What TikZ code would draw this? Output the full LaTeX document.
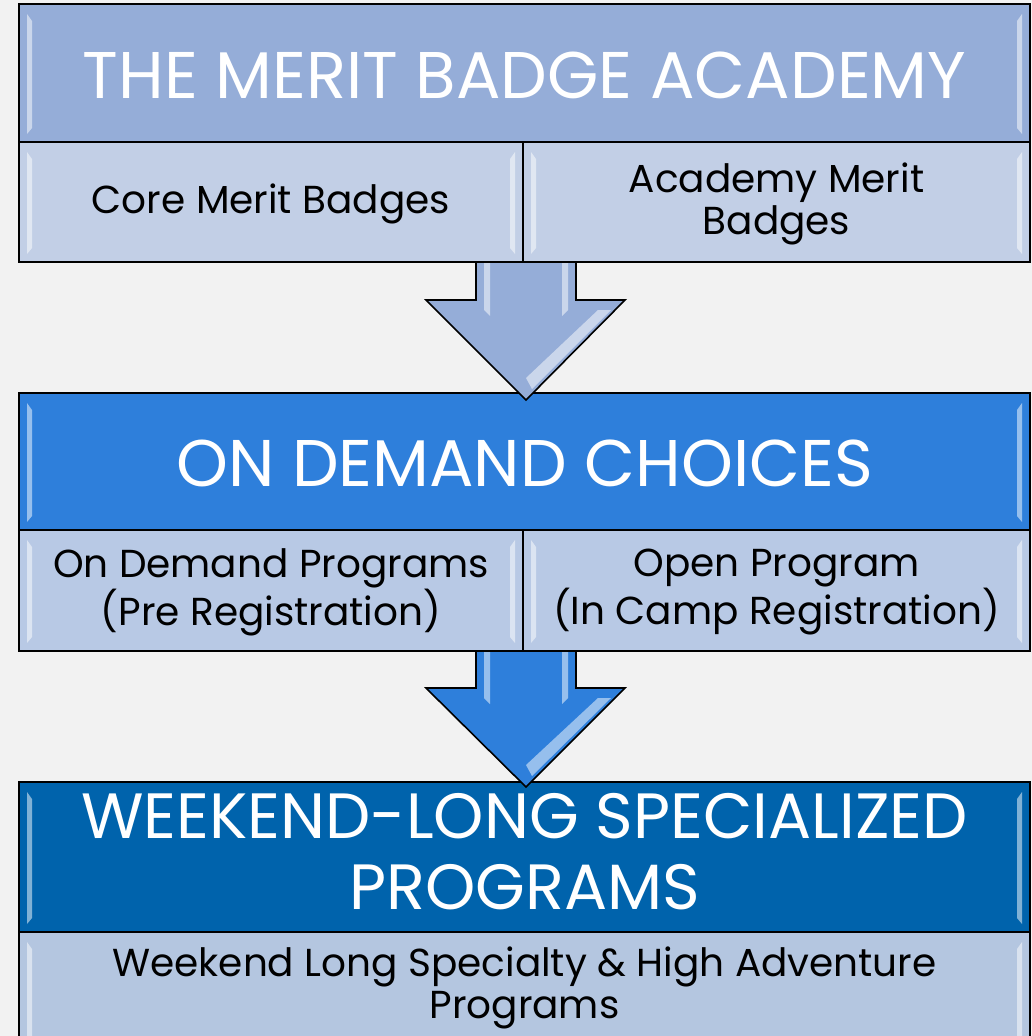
\documentclass[tikz,border=0pt]{standalone}
\usepackage{fontspec}
\setmainfont{Poppins}
\definecolor{bgc}{RGB}{242,242,242}
\definecolor{hA}{RGB}{149,173,216}
\definecolor{sA}{RGB}{194,207,230}
\definecolor{hB}{RGB}{46,127,219}
\definecolor{sB}{RGB}{184,201,229}
\definecolor{hC}{RGB}{0,99,172}
\definecolor{sC}{RGB}{180,198,224}
\tikzset{
  cell/.style={draw=black, line width=1.6pt, inner sep=0pt, outer sep=0pt, align=center},
  headtxt/.style={text=white, font=\fontsize{66}{71}\selectfont},
  subtxt/.style={text=black, align=center, font=\fontsize{39}{42}\selectfont},
  blockarrow/.style={draw=black, line width=1.6pt, line join=miter},
  shine/.style={fill=white, fill opacity=0.5, draw=none},
}
\newcommand{\bevel}[1]{%
  \fill[shine] ($(#1.north west)+(8,10)$) -- ($(#1.north west)+(13,17)$) -- ($(#1.south west)+(13,-14)$) -- ($(#1.south west)+(8,-8)$) -- cycle;
  \fill[shine] ($(#1.north east)+(-8,10)$) -- ($(#1.north east)+(-13,17)$) -- ($(#1.south east)+(-13,-14)$) -- ($(#1.south east)+(-8,-8)$) -- cycle;
}
\usetikzlibrary{calc}
\begin{document}
\begin{tikzpicture}[x=1pt,y=-1pt]
\fill[bgc] (0,0) rectangle (1032,1036);
\useasboundingbox (0,0) rectangle (1032,1036);
\begin{scope}
\clip (0,0) rectangle (1032,1036);
% block 1
\node[cell, fill=hA, minimum width=1011pt, minimum height=138pt] (h1) at (524.5,73) {};
\node[headtxt] (t1) at (524.5,75) {THE MERIT BADGE ACADEMY};
\node[cell, fill=sA, minimum width=504pt, minimum height=120pt] (c1a) at (271,202) {};
\node[subtxt] (t1a) at (271,204) {Core Merit Badges};
\node[cell, fill=sA, minimum width=507pt, minimum height=120pt] (c1b) at (776.5,202) {};
\node[subtxt] (t1b) at (776.5,204) {Academy Merit\\Badges};
% block 2
\node[cell, fill=hB, minimum width=1011pt, minimum height=137pt] (h2) at (524.5,461.5) {};
\node[headtxt] (t2) at (524.5,463) {ON DEMAND CHOICES};
\node[cell, fill=sB, minimum width=504pt, minimum height=121pt] (c2a) at (271,590.5) {};
\node[subtxt] (t2a) at (271,592) {On Demand Programs\\(Pre Registration)};
\node[cell, fill=sB, minimum width=507pt, minimum height=121pt] (c2b) at (776.5,590.5) {};
\node[subtxt] (t2b) at (776.5,592) {Open Program\\(In Camp Registration)};
% block 3
\node[cell, fill=hC, minimum width=1011pt, minimum height=150pt] (h3) at (524.5,857) {};
\node[headtxt, align=center, font=\fontsize{64}{71}\selectfont] (t3h) at (524.5,852) {WEEKEND-LONG SPECIALIZED\\PROGRAMS};
\node[cell, fill=sC, minimum width=1011pt, minimum height=120pt, anchor=north] (c3) at (524.5,932) {};
\node[subtxt] (t3) at (524.5,988) {Weekend Long Specialty \& High Adventure\\Programs};
\bevel{h1}\bevel{c1a}\bevel{c1b}
\bevel{h2}\bevel{c2a}\bevel{c2b}
\bevel{h3}
\fill[shine] ($(c3.north west)+(8,10)$) -- ($(c3.north west)+(13,17)$) -- ($(c3.south west)+(13,-14)$) -- ($(c3.south west)+(8,-8)$) -- cycle;
\fill[shine] ($(c3.north east)+(-8,10)$) -- ($(c3.north east)+(-13,17)$) -- ($(c3.south east)+(-13,-14)$) -- ($(c3.south east)+(-8,-8)$) -- cycle;
% arrow 1
\fill[hA] (476,263) -- (476,300) -- (426,300) -- (526,400) -- (625,300) -- (576,300) -- (576,263) -- cycle;
\draw[blockarrow] (476,263) -- (476,300) -- (426,300) -- (526,400) -- (625,300) -- (576,300) -- (576,263);
\fill[shine] (484,263) -- (490,263) -- (490,316) -- (484,310) -- cycle;
\fill[shine] (562,263) -- (568,263) -- (568,310) -- (562,316) -- cycle;
\fill[shine] (598,310) -- (611,310) -- (532,389) -- (526,378) -- cycle;
\draw[black, line width=1.6pt] (c1a.south west) -- (c1b.south east);
\draw[black, line width=1.6pt] (c1a.north east) -- (c1a.south east);
% arrow 2
\fill[hB] (476,652) -- (476,688) -- (426,688) -- (526,787) -- (625,688) -- (576,688) -- (576,652) -- cycle;
\draw[blockarrow] (476,652) -- (476,688) -- (426,688) -- (526,787) -- (625,688) -- (576,688) -- (576,652);
\fill[shine] (484,652) -- (490,652) -- (490,704) -- (484,698) -- cycle;
\fill[shine] (562,652) -- (568,652) -- (568,698) -- (562,704) -- cycle;
\fill[shine] (598,698) -- (611,698) -- (532,776) -- (526,765) -- cycle;
\draw[black, line width=1.6pt] (c2a.south west) -- (c2b.south east);
\draw[black, line width=1.6pt] (c2a.north east) -- (c2a.south east);
\end{scope}
\end{tikzpicture}
\end{document}
